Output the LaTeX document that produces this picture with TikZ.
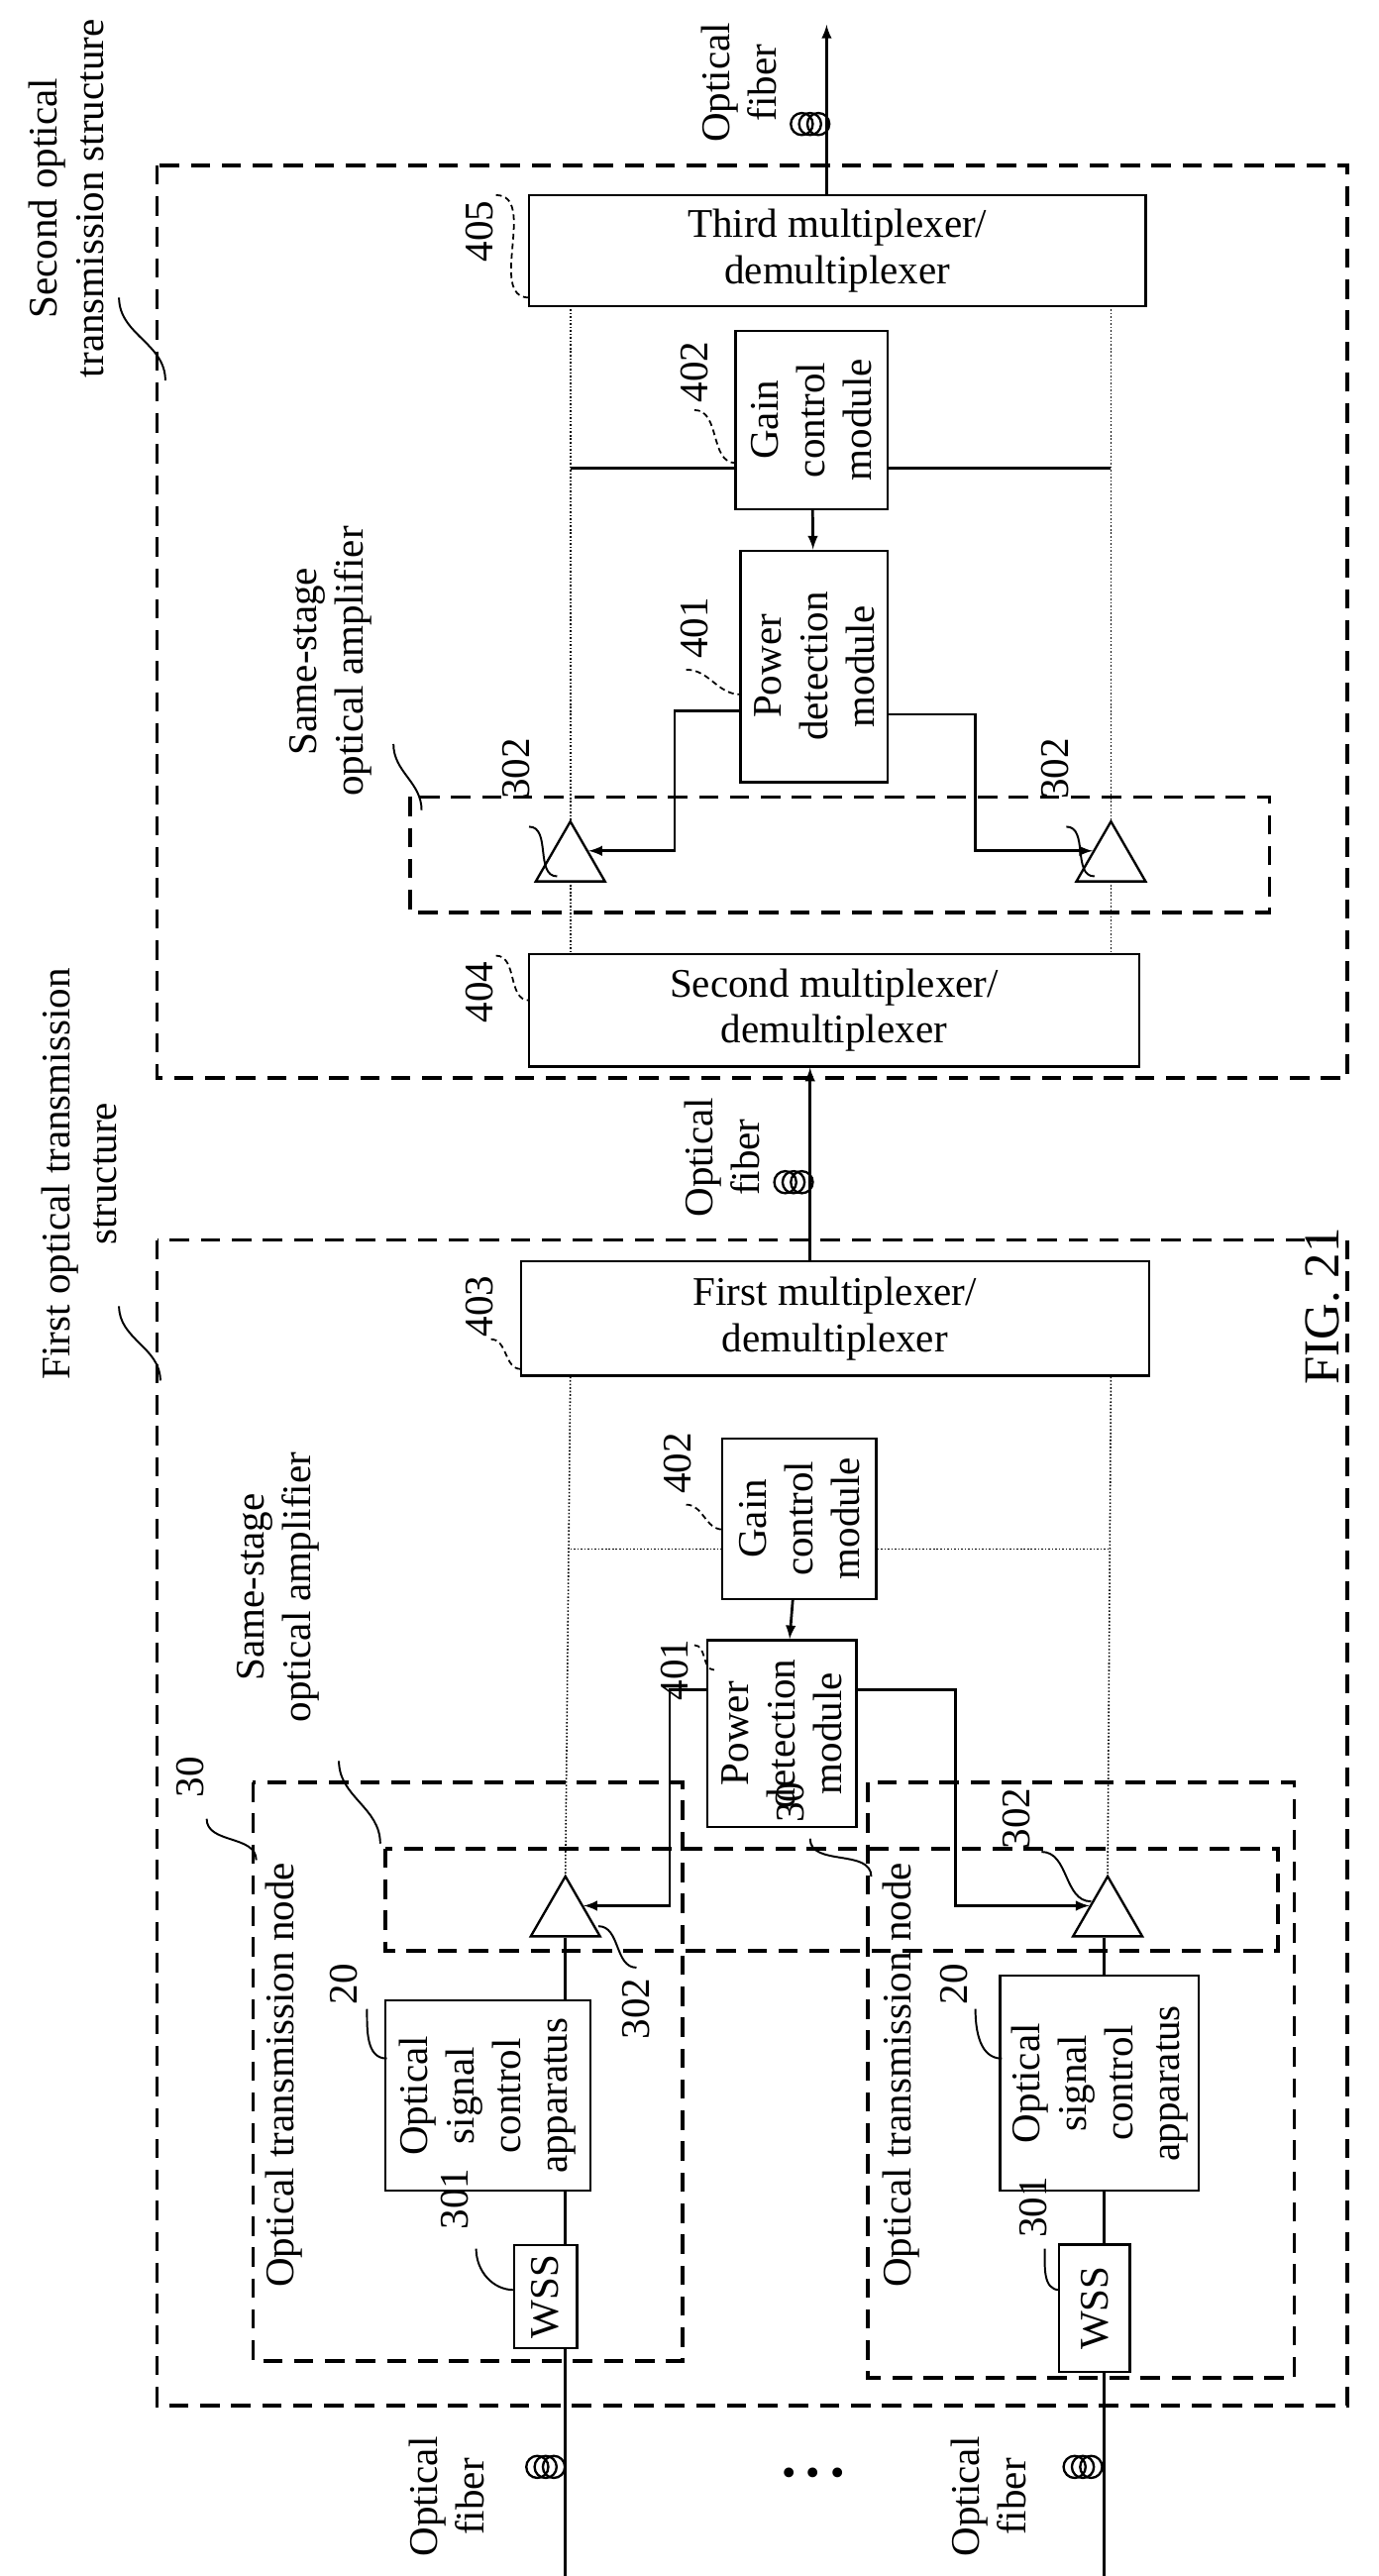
\documentclass[tikz,border=0pt]{standalone}
\usepackage{fontspec}
\setmainfont{Liberation Serif}
\usetikzlibrary{shapes.geometric,positioning,calc}
\tikzset{
  box/.style={draw=black,line width=1.2pt,fill=white,inner sep=0pt},
  rot/.style={rotate=90,align=center,inner sep=1pt},
  grp/.style={draw=black,line width=1.8pt,dash pattern=on 10pt off 6pt},
  amp/.style={draw=black,line width=1.2pt,fill=white,regular polygon,regular polygon sides=3,minimum size=1.45cm,inner sep=0pt},
  sig/.style={line width=1.4pt},
  dot/.style={line width=0.8pt,densely dotted},
  sq/.style={line width=1pt},
  sqd/.style={line width=0.9pt,densely dashed},
  >=latex
}
\newcommand{\coil}[1]{\foreach \d in {-5,0,5} \draw[line width=1.2pt] ($(#1)+(\d,0)$) circle (0.2cm);}
\begin{document}
\begin{tikzpicture}[x=0.03cm,y=-0.03cm,font=\fontsize{21}{24}\selectfont]
  \useasboundingbox (0,0) rectangle (834,1558);

  % structures
  \draw[grp] (95,100) rectangle (815,652);
  \draw[grp] (95,750) rectangle (815,1455);
  \node[rot] (st2) at (40,120) {Second optical\\transmission structure};
  \node[rot] (st1) at (48,710) {First optical transmission\\structure};
  \draw[sq] (72,180) to[out=-90,in=90] (100,230);
  \draw[sq] (72,790) to[out=-90,in=90] (97,835);
  \node[rot,font=\fontsize{26}{30}\selectfont] (fig) at (800,790) {FIG. 21};

  % second structure
  \node[box,minimum width={373*0.03cm},minimum height={67*0.03cm},align=center] (mux3) at (506.5,151.5) {Third multiplexer/\\demultiplexer};
  \node[box,minimum width={369*0.03cm},minimum height={68*0.03cm},align=center] (mux2) at (504.5,611) {Second multiplexer/\\demultiplexer};
  \node[box,minimum width={92*0.03cm},minimum height={108*0.03cm}] (gain2) at (491,254) {};
  \node[rot] at (gain2) {Gain\\control\\module};
  \node[box,minimum width={89*0.03cm},minimum height={140*0.03cm}] (pd2) at (492.5,403) {};
  \node[rot] at (pd2) {Power\\detection\\module};
  \draw[dot] (345,185) -- (345,577);
  \draw[dot] (672,185) -- (672,577);
  \node[amp] (ampA2) at (345,521) {};
  \node[amp] (ampB2) at (672,521) {};
  \draw[sig] (345,283) -- (gain2.west |- 345,283);
  \draw[sig] (gain2.east |- 672,283) -- (672,283);
  \draw[sig,->] (gain2) -- (pd2);
  \draw[sig,->] (pd2.west |- 0,430) -- (408,430) |- (ampA2.side 3);
  \draw[sig,->] (pd2.east |- 0,432) -- (590,432) |- (ampB2.side 1);
  \draw[grp] (248,482) rectangle (768,552);
  \node[rot] (ssa2) at (200,400) {Same-stage\\optical amplifier};
  \draw[sq] (238,450) to[out=-90,in=90] (255,490);
  % labels
  \node[rot] (n405) at (290,140) {405};
  \draw[sqd] (300,118) to[out=0,in=180] (320,180);
  \node[rot] (n402b) at (420,225) {402};
  \draw[sqd] (420,248) to[out=0,in=180] (445,280);
  \node[rot] (n401b) at (420,380) {401};
  \draw[sqd] (415,405) to[out=0,in=180] (448,420);
  \node[rot] (n404) at (290,600) {404};
  \draw[sqd] (300,578) to[out=0,in=180] (320,605);
  \node[rot] (n302a) at (312,465) {302};
  \draw[sq] (320,500) to[out=0,in=180] (337,530);
  \node[rot] (n302b) at (638,465) {302};
  \draw[sq] (645,500) to[out=0,in=180] (662,530);

  % output fiber
  \draw[sig,->] (mux3.north -| 500,0) -- (500,15);
  \coil{490,75}
  \node[rot] (fibO) at (447,50) {Optical\\fiber};

  % first structure
  \node[box,minimum width={380*0.03cm},minimum height={69*0.03cm},align=center] (mux1) at (505,797.5) {First multiplexer/\\demultiplexer};
  \node[box,minimum width={93*0.03cm},minimum height={97*0.03cm}] (gain1) at (483.5,918.5) {};
  \node[rot] at (gain1) {Gain\\control\\module};
  \node[box,minimum width={90*0.03cm},minimum height={113*0.03cm}] (pd1) at (473,1048.5) {};
  \node[rot] at (pd1) {Power\\detection\\module};
  \node[amp] (ampA1) at (342,1159) {};
  \node[amp] (ampB1) at (670,1159) {};
  \draw[dot] (mux1.south -| 345,0) -- (ampA1.corner 1);
  \draw[dot] (mux1.south -| 672,0) -- (ampB1.corner 1);
  \draw[dot] (345,937) -- (gain1.west |- 0,937);
  \draw[dot] (gain1.east |- 0,937) -- (672,937);
  \draw[sig,->] (gain1) -- (pd1);
  \draw[sig,->] (pd1.west |- 0,1022) -- (405,1022) |- (ampA1.side 3);
  \draw[sig,->] (pd1.east |- 0,1022) -- (578,1022) |- (ampB1.side 1);
  \node[rot] (n403) at (290,790) {403};
  \draw[sqd] (297,810) to[out=0,in=180] (315,828);
  \node[rot] (n402a) at (410,885) {402};
  \draw[sqd] (415,910) to[out=0,in=180] (437,925);
  \node[rot] (n401a) at (408,1010) {401};
  \draw[sqd] (420,995) to[out=0,in=180] (432,1010);

  % link fiber
  \draw[sig,->] (mux1.north -| 490,0) -- (mux2.south -| 490,0);
  \coil{480,715}
  \node[rot] (fibL) at (437,700) {Optical\\fiber};

  % nodes 30
  \draw[grp] (153,1078) rectangle (413,1428);
  \draw[grp] (525,1078) rectangle (783,1438);
  \draw[grp] (233,1118) rectangle (773,1180);
  \node[rot] (ssa1) at (168,960) {Same-stage\\optical amplifier};
  \draw[sq] (205,1065) to[out=-90,in=90] (230,1115);
  \node[rot] (otnA) at (172,1255) {Optical transmission node};
  \node[rot] (otnB) at (545,1255) {Optical transmission node};
  \node[rot] (n30a) at (115,1075) {30};
  \draw[sq] (125,1100) to[out=-90,in=90] (155,1125);
  \node[rot] (n30b) at (478,1090) {30};
  \draw[sq] (490,1112) to[out=-90,in=90] (527,1135);
  \node[rot] (n302c) at (385,1215) {302};
  \draw[sq] (362,1165) to[out=0,in=180] (385,1190);
  \node[rot] (n302d) at (615,1100) {302};
  \draw[sq] (630,1120) to[out=0,in=180] (660,1150);

  % chain A
  \node[box,minimum width={124*0.03cm},minimum height={115*0.03cm}] (oscA) at (295,1267.5) {};
  \node[rot] at (oscA) {Optical\\signal\\control\\apparatus};
  \node[box,minimum width={38*0.03cm},minimum height={62*0.03cm}] (wssA) at (330,1389) {};
  \node[rot] at (wssA) {WSS};
  \draw[sig] (ampA1.south -| 342,0) -- (oscA.north -| 342,0);
  \draw[sig] (oscA.south -| 342,0) -- (wssA.north -| 342,0);
  \draw[sig] (wssA.south -| 342,0) -- (342,1558);
  \coil{330,1492}
  \node[rot] (fibA) at (270,1510) {Optical\\fiber};
  \node[rot] (n20a) at (208,1200) {20};
  \draw[sq] (222,1215) to[out=-90,in=180] (234,1245);
  \node[rot] (n301a) at (275,1330) {301};
  \draw[sq] (288,1360) to[out=-90,in=180] (311,1385);

  % chain B
  \node[box,minimum width={120*0.03cm},minimum height={130*0.03cm}] (oscB) at (665,1260) {};
  \node[rot] at (oscB) {Optical\\signal\\control\\apparatus};
  \node[box,minimum width={43*0.03cm},minimum height={77*0.03cm}] (wssB) at (662,1396) {};
  \node[rot] at (wssB) {WSS};
  \draw[sig] (ampB1.south -| 668,0) -- (oscB.north -| 668,0);
  \draw[sig] (oscB.south -| 668,0) -- (wssB.north -| 668,0);
  \draw[sig] (wssB.south -| 668,0) -- (668,1558);
  \coil{655,1492}
  \node[rot] (fibB) at (598,1510) {Optical\\fiber};
  \node[rot] (n20b) at (577,1200) {20};
  \draw[sq] (590,1215) to[out=-90,in=180] (606,1245);
  \node[rot] (n301b) at (625,1335) {301};
  \draw[sq] (632,1360) to[out=-90,in=180] (641,1385);

  \node (dots) at (492,1498) {\textbullet\ \textbullet\ \textbullet};
\end{tikzpicture}
\end{document}
